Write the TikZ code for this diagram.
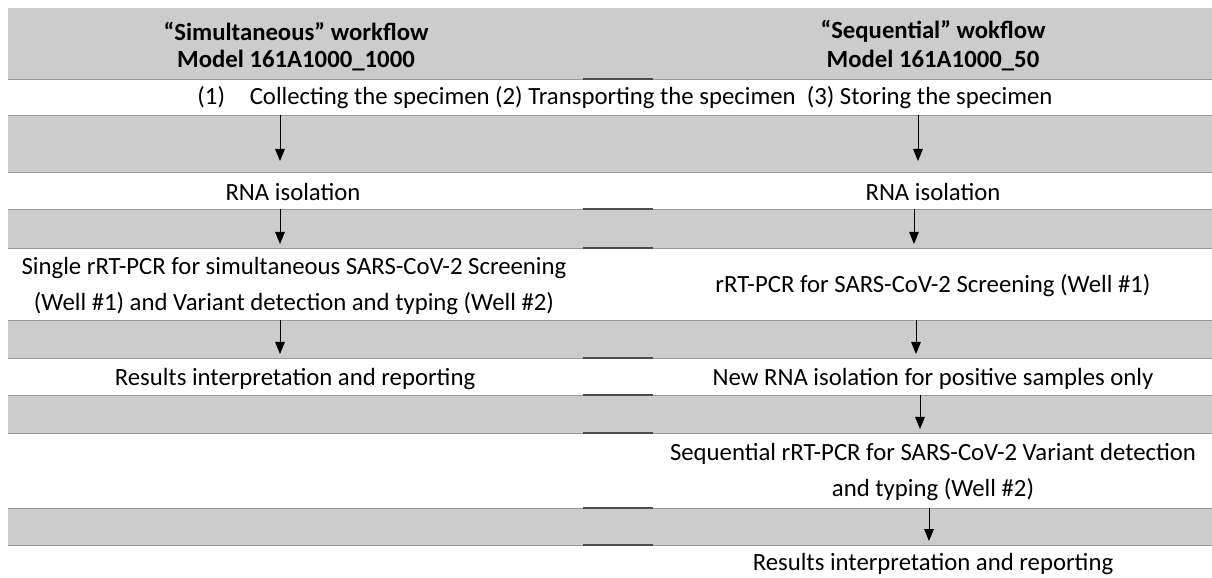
\documentclass[tikz,border=0pt]{standalone}
\usepackage{fontspec}
\setmainfont{Carlito}
\usepackage{xcolor}
\usepackage{tikz}
\usetikzlibrary{arrows.meta}

\tikzset{
  txt/.style={font=\fontsize{17.6}{25.8}\selectfont, align=center, inner sep=0pt},
  hdr/.style={font=\fontsize{17.6}{22}\selectfont\bfseries, inner sep=0pt},
  flow/.style={-{Triangle[length=0.3cm,width=0.24cm]}, line width=0.7pt},
  rowedge/.style={black!40, line width=0.6pt},
  midedge/.style={black!70, line width=0.9pt}
}

\begin{document}
\begin{tikzpicture}[x=0.025cm,y=-0.025cm]
\useasboundingbox (0,0) rectangle (1212,578);

% Grey rows
\foreach \t/\b in {8/79,115/172,209/248,320/358,395/433,508/545} {
    \fill[black!20] (8,\t) rectangle (1212,\b);
    \draw[rowedge] (8,\b) -- (1212,\b);
}
\foreach \t in {115,209,320,395,508} {
    \draw[rowedge] (8,\t) -- (1212,\t);
}
% short strokes in the middle column
\foreach \y in {79,209,248,358,395,433,508,545} {
    \draw[midedge] (583,\y) -- (653,\y);
}
% arrow ends in each grey row
\foreach \i/\t/\b in {1/115/161,2/209/244,3/320/354,4/395/429,5/508/541} {
    \coordinate (top\i) at (0,\t);
    \coordinate (bot\i) at (0,\b);
}

% Headers
\node[hdr] (simT) at (296,31) {“Simultaneous” workflow};
\node[hdr] (simM) at (296,61) {Model 161A1000\_1000};
\node[hdr] (seqT) at (933,31) {“Sequential” wokflow};
\node[hdr] (seqM) at (933,61) {Model 161A1000\_50};

% Common step
\node[txt] (spec) at (625,98) {(1)\hspace{1em}Collecting the specimen (2) Transporting the specimen\ \ (3) Storing the specimen};

% Simultaneous workflow
\node[txt] (rnaL) at (293,192) {RNA isolation};
\node[txt] (pcrL) at (294,286) {Single rRT-PCR for simultaneous SARS-CoV-2 Screening\\(Well \#1) and Variant detection and typing (Well \#2)};
\node[txt] (resL) at (295,379) {Results interpretation and reporting};

% Sequential workflow
\node[txt] (rnaR) at (933,192) {RNA isolation};
\node[txt] (pcrR) at (933,286) {rRT-PCR for SARS-CoV-2 Screening (Well \#1)};
\node[txt] (newR) at (933,379) {New RNA isolation for positive samples only};
\node[txt] (seqR) at (933,472) {Sequential rRT-PCR for SARS-CoV-2 Variant detection\\and typing (Well \#2)};
\node[txt] (resR) at (933,564) {Results interpretation and reporting};

% Arrows
\foreach \n/\x/\i in {al1/280/1,al2/280/2,al3/280/3,ar1/918/1,ar2/914/2,ar3/916/3,ar4/920/4,ar5/929/5} {
    \coordinate (\n) at (\x,0);
    \draw[flow] (\n |- top\i) -- (\n |- bot\i);
}
\end{tikzpicture}
\end{document}
